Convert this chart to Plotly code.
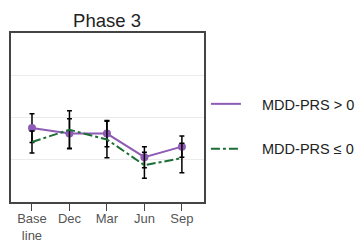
import plotly.graph_objects as go

categories = ["Base<br>line", "Dec", "Mar", "Jun", "Sep"]
pos_mean = [1.75, 1.62, 1.62, 1.06, 1.31]
pos_err = [0.34, 0.35, 0.31, 0.25, 0.25]
neg_mean = [1.42, 1.71, 1.48, 0.87, 1.04]
neg_err = [0.26, 0.45, 0.43, 0.31, 0.35]
series_names = ["MDD-PRS > 0", "MDD-PRS ≤ 0"]

purple = "#8e5bb5"
green = "#1d6e36"
pad = "\u00a0" * 4

fig = go.Figure()
fig.add_trace(go.Scatter(
    x=categories, y=pos_mean, name=series_names[0], mode="lines+markers",
    line=dict(color=purple, width=2),
    marker=dict(color=purple, size=8),
    error_y=dict(type="data", array=pos_err, color="black", thickness=1.5, width=2.5),
    showlegend=False,
))
fig.add_trace(go.Scatter(
    x=categories, y=neg_mean, name=series_names[1], mode="lines+markers",
    line=dict(color=green, width=2, dash="dashdot"),
    marker=dict(color="rgba(0,0,0,0)", size=8, symbol="circle-open",
                line=dict(color=green, width=2.5)),
    error_y=dict(type="data", array=neg_err, color="black", thickness=1.5, width=2.5),
    showlegend=False,
))
# legend-only entries (line only, as in reference)
fig.add_trace(go.Scatter(x=[None], y=[None], mode="lines", name=pad + series_names[0],
                         line=dict(color=purple, width=2), legendgroup="a"))
fig.add_trace(go.Scatter(x=[None], y=[None], mode="lines", name=pad + series_names[1],
                         line=dict(color=green, width=2, dash="dashdot"), legendgroup="b"))

fig.update_layout(
    width=357, height=244,
    margin=dict(l=11, r=153, t=33, b=42, autoexpand=False),
    paper_bgcolor="white", plot_bgcolor="white",
    font=dict(family="Liberation Sans, Arial, sans-serif", color="#555555", size=14),
    title=dict(text="Phase 3", x=107/357, xanchor="center", y=0.915, yanchor="middle",
               font=dict(size=18.5, color="#222222")),
    showlegend=True,
    legend=dict(x=1.01, xanchor="left", y=0.675, yanchor="top",
                font=dict(size=14.5, color="#222222"), tracegroupgap=23,
                traceorder="grouped", bgcolor="rgba(0,0,0,0)"),
    xaxis=dict(showline=True, linecolor="#444444", linewidth=1.5, mirror=True,
               ticks="outside", ticklen=7, tickcolor="#444444", showgrid=False,
               automargin=False, ticklabelstandoff=-3,
               range=[-0.56, 4.59], tickfont=dict(size=13, color="#555555")),
    yaxis=dict(showline=True, linecolor="#444444", linewidth=1.5, mirror=True,
               range=[0, 4], dtick=1, showticklabels=False, showgrid=True,
               automargin=False,
               gridcolor="#ebebeb", gridwidth=1, zeroline=False, ticks=""),
)

fig.write_html("out.html", config={"displayModeBar": False},
               post_script="document.body.style.margin='0';")
